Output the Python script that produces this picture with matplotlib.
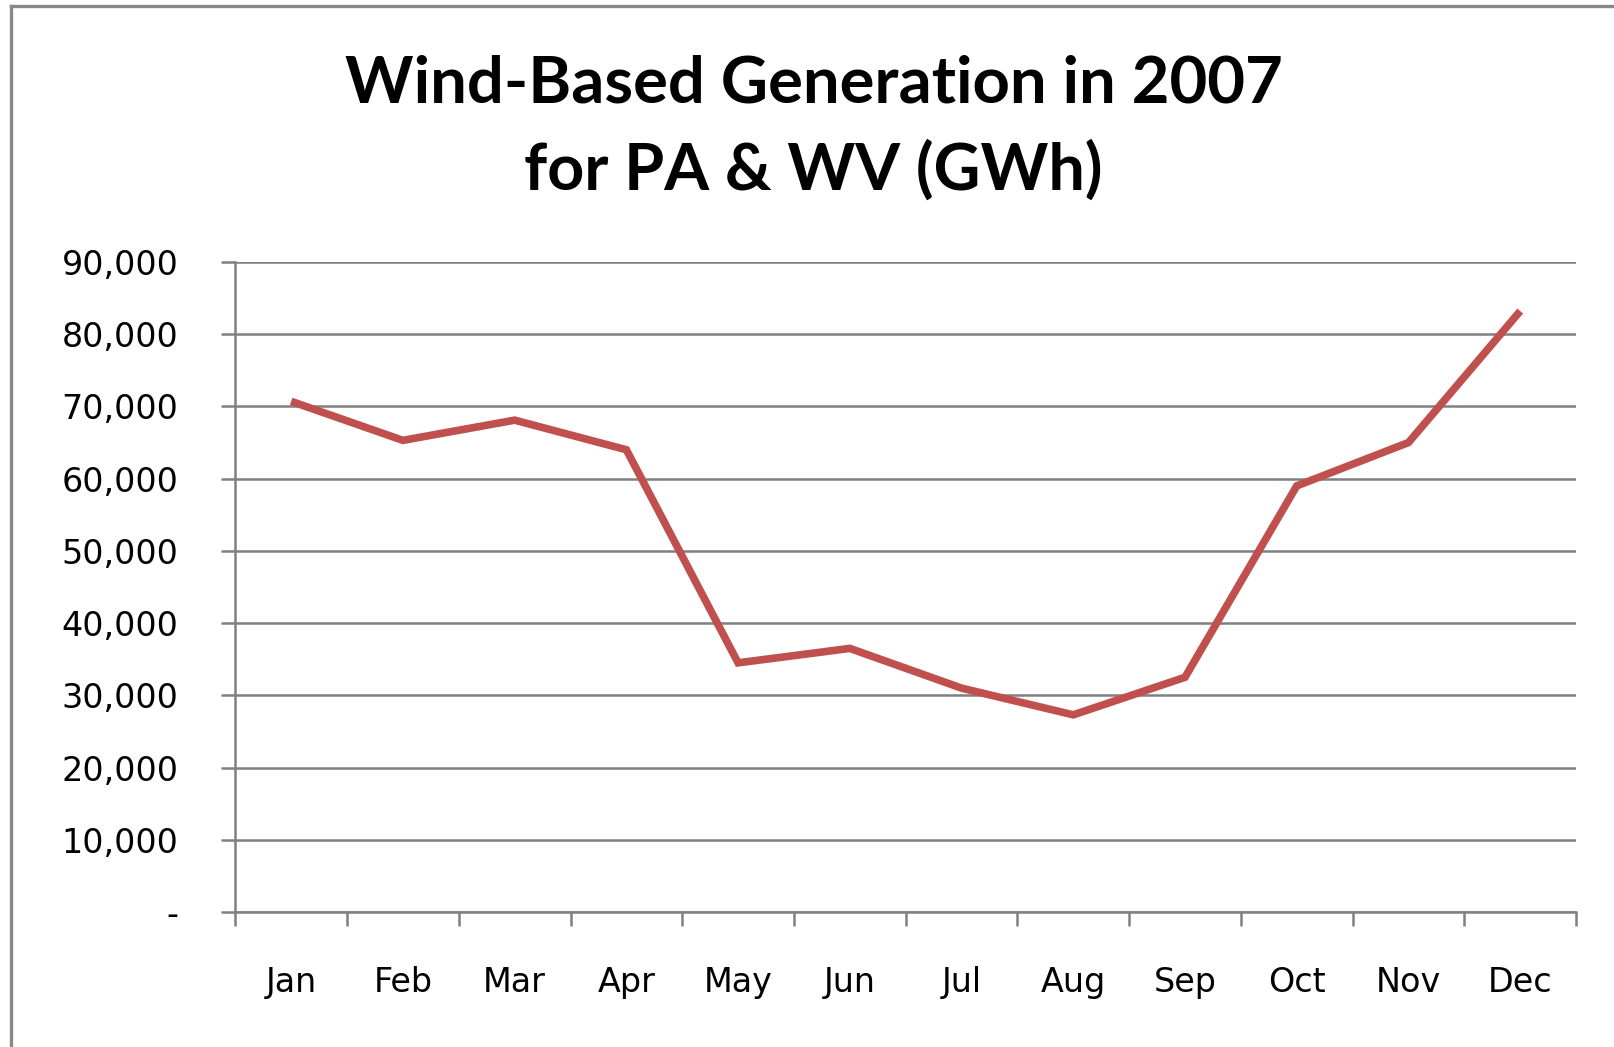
import matplotlib
matplotlib.use("Agg")
import matplotlib.pyplot as plt
from matplotlib.lines import Line2D
from matplotlib.ticker import FuncFormatter, FixedLocator
import numpy as np

# monthly wind-based generation, GWh
months = ['Jan', 'Feb', 'Mar', 'Apr', 'May', 'Jun',
          'Jul', 'Aug', 'Sep', 'Oct', 'Nov', 'Dec']
generation = [70700, 65300, 68100, 64000, 34500, 36500,
              31000, 27300, 32500, 59000, 65000, 83200]
y_ticks = [0, 10000, 20000, 30000, 40000, 50000, 60000, 70000, 80000, 90000]

grid_col = '#808080'
line_col = '#C0504D'

fig = plt.figure(figsize=(16.14, 10.47), dpi=100)
ax = fig.add_axes([0.1458, 0.1289, 0.8307, 0.6209])

x = np.arange(len(months))
ax.plot(x, generation, color=line_col, linewidth=5.5, solid_joinstyle='miter',
        solid_capstyle='butt', zorder=3)

ax.set_xlim(-0.5, len(months) - 0.5)
ax.set_ylim(0, 90000)

# y axis: gridlines + comma labels, "-" for zero
ax.set_yticks(y_ticks)
ax.yaxis.set_major_formatter(FuncFormatter(lambda v, p: '-' if v == 0 else f'{int(v):,}'))
ax.grid(axis='y', color=grid_col, linewidth=1.8)
ax.set_axisbelow(True)
ax.tick_params(axis='y', length=10, width=1.8, color=grid_col, pad=31,
               labelsize=24)

# x axis: ticks at category boundaries, labels at centers
ax.xaxis.set_major_locator(FixedLocator(np.arange(-0.5, len(months), 1.0)))
ax.xaxis.set_minor_locator(FixedLocator(x))
ax.xaxis.set_major_formatter(FuncFormatter(lambda v, p: ''))
ax.set_xticklabels(months, minor=True)
ax.tick_params(axis='x', which='major', length=10, width=1.8, color=grid_col,
               direction='out')
ax.tick_params(axis='x', which='minor', length=0, pad=39, labelsize=24)

for side in ['top', 'right']:
    ax.spines[side].set_visible(False)
for side in ['left', 'bottom']:
    ax.spines[side].set_color(grid_col)
    ax.spines[side].set_linewidth(1.8)

# title, two centered lines
fig.text(0.504, 0.902, 'Wind-Based Generation in 2007', ha='center', va='baseline',
         fontsize=47, fontweight='bold', family='Lato')
fig.text(0.504, 0.819, 'for PA & WV (GWh)', ha='center', va='baseline',
         fontsize=46.5, fontweight='bold', family='Lato')

# chart area border (only top and left visible in the crop)
fig.add_artist(Line2D([0.0068, 0.0068], [0.0, 0.9943], transform=fig.transFigure,
                      color='#888888', linewidth=2.4))
fig.add_artist(Line2D([0.0068, 1.0], [0.9943, 0.9943], transform=fig.transFigure,
                      color='#888888', linewidth=2.4))

fig.savefig('out.png', dpi=100, facecolor='white')
